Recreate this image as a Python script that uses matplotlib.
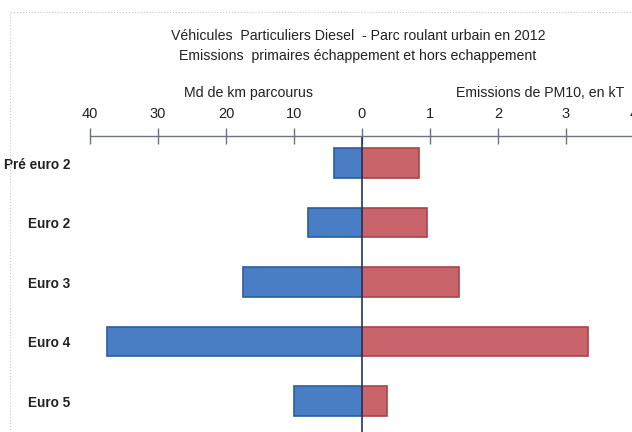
import matplotlib.pyplot as plt
from matplotlib.patches import Rectangle

categories = ['Pré euro 2', 'Euro 2', 'Euro 3', 'Euro 4', 'Euro 5']
km_parcourus = [4.1, 7.9, 17.5, 37.5, 10.0]      # Md de km
emissions_pm10 = [0.84, 0.95, 1.43, 3.32, 0.37]  # kT
tick_vals = [-4, -3, -2, -1, 0, 1, 2, 3, 4]
tick_labels = ['40', '30', '20', '10', '0', '1', '2', '3', '4']

FONT = ['Liberation Sans', 'DejaVu Sans']
TXT = '#222222'
BLUE = '#4a7ec4'
BLUE_EDGE = '#2c5e9e'
RED = '#c8646a'
RED_EDGE = '#a8444a'

fig = plt.figure(figsize=(6.32, 4.32), dpi=100)
fig.patches.append(Rectangle((10 / 632, -0.1), 1.1, 1 - 12 / 432 + 0.1,
                             transform=fig.transFigure, fill=False,
                             edgecolor='#c8c8c8', linewidth=0.8, linestyle=':'))

ax = fig.add_axes([90 / 632, 0, 544 / 632, 1 - 136 / 432])
y = list(range(len(categories)))
left = [-v / 10 for v in km_parcourus]
ax.barh(y, left, height=0.5, color=BLUE, edgecolor=BLUE_EDGE, linewidth=1.2)
ax.barh(y, emissions_pm10, height=0.5, color=RED, edgecolor=RED_EDGE, linewidth=1.2)
ax.axvline(0, color='#1f3561', linewidth=1.2)

ax.set_xlim(-4, 4)
ax.set_ylim(4.52, -0.454)
ax.xaxis.tick_top()
ax.set_xticks(tick_vals)
ax.set_xticklabels(tick_labels, family=FONT, fontsize=10.5, color=TXT)
ax.tick_params(axis='x', direction='inout', length=12, width=1, color='#6b7385', pad=5)
ax.set_yticks(y)
ax.set_yticklabels(categories, family=FONT, fontsize=9.8, color=TXT, fontweight='bold')
ax.tick_params(axis='y', length=0, pad=14)
for s in ['left', 'right', 'bottom']:
    ax.spines[s].set_visible(False)
ax.spines['top'].set_color('#6b7385')
ax.spines['top'].set_linewidth(1)

fig.text(358 / 632, 1 - 36 / 432, 'Véhicules  Particuliers Diesel  - Parc roulant urbain en 2012',
         ha='center', va='center', family=FONT, fontsize=10.2, color=TXT)
fig.text(358 / 632, 1 - 56 / 432, 'Emissions  primaires échappement et hors echappement',
         ha='center', va='center', family=FONT, fontsize=10.2, color=TXT)
fig.text(248 / 632, 1 - 93 / 432, 'Md de km parcourus',
         ha='center', va='center', family=FONT, fontsize=10.2, color=TXT)
fig.text(540 / 632, 1 - 93 / 432, 'Emissions de PM10, en kT',
         ha='center', va='center', family=FONT, fontsize=10.2, color=TXT)

fig.savefig('out.png', dpi=100, facecolor='white')
